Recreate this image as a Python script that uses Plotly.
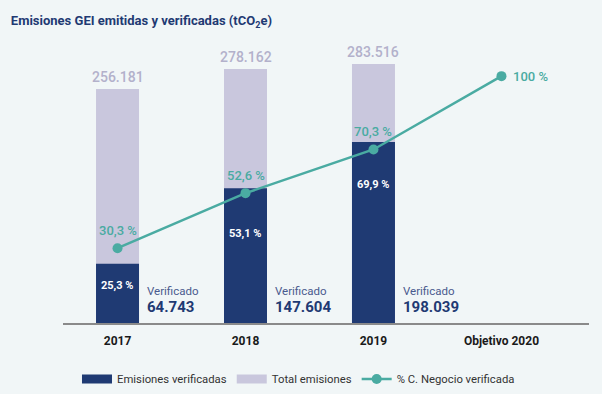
import plotly.graph_objects as go

categories = ["2017", "2018", "2019", "Objetivo 2020"]
total_emisiones = [256181, 278162, 283516]
emisiones_verificadas = [64743, 147604, 198039]
pct_verificadas = [25.3, 53.1, 69.9]
pct_negocio = [30.3, 52.6, 70.3, 100]
total_labels = ["256.181", "278.162", "283.516"]
verif_labels = ["64.743", "147.604", "198.039"]
pct_verif_labels = ["25,3 %", "53,1 %", "69,9 %"]
pct_negocio_labels = ["30,3 %", "52,6 %", "70,3 %", "100 %"]

NAVY = "#1f3a73"
LAV = "#c9c7dd"
LAV_TXT = "#b3b1cb"
TEAL = "#4aaba2"
BG = "#f1f6f7"
FONT = "Roboto"

xs = list(range(len(categories)))
xb = xs[:len(total_emisiones)]
BW = 0.336

fig = go.Figure()
fig.add_trace(go.Bar(x=xb, y=total_emisiones, width=BW, marker_color=LAV,
                     marker_line_width=0, showlegend=False, hoverinfo="skip"))
fig.add_trace(go.Bar(x=xb, y=emisiones_verificadas, width=BW, marker_color=NAVY,
                     marker_line_width=0, showlegend=False, hoverinfo="skip"))
fig.add_trace(go.Scatter(x=xs, y=pct_negocio, yaxis="y2", mode="lines+markers",
                         line=dict(color=TEAL, width=2.5),
                         marker=dict(size=10, color=TEAL), showlegend=False))

# legend entries
fig.add_trace(go.Scatter(x=[None], y=[None], mode="lines", name="Emisiones verificadas",
                         line=dict(color=NAVY, width=9)))
fig.add_trace(go.Scatter(x=[None], y=[None], mode="lines", name="Total emisiones",
                         line=dict(color=LAV, width=9)))
fig.add_trace(go.Scatter(x=[None], y=[None], mode="lines+markers", name="% C. Negocio verificada",
                         line=dict(color=TEAL, width=2.5), marker=dict(size=10, color=TEAL)))

ann = []
pct_shift = [-13, -37, -34]
for i, x in enumerate(xb):
    ann.append(dict(x=x, y=total_emisiones[i], text=total_labels[i], showarrow=False,
                    yanchor="bottom", yshift=2,
                    font=dict(family=FONT, size=14, color=LAV_TXT, weight=500)))
    ann.append(dict(x=x, y=emisiones_verificadas[i], text="<b>" + pct_verif_labels[i] + "</b>",
                    showarrow=False, yanchor="top", yshift=pct_shift[i],
                    font=dict(family=FONT, size=11, color="white")))
    ann.append(dict(x=x + BW / 2 + 0.05, y=0, text="Verificado", showarrow=False,
                    xanchor="left", yanchor="bottom", yshift=23,
                    font=dict(family=FONT, size=11.5, color="#4a5a8e")))
    ann.append(dict(x=x + BW / 2 + 0.05, y=0, text="<b>" + verif_labels[i] + "</b>", showarrow=False,
                    xanchor="left", yanchor="bottom", yshift=5,
                    font=dict(family=FONT, size=15, color=NAVY)))
for i, x in enumerate(xs):
    if i < len(xs) - 1:
        ann.append(dict(x=x, y=pct_negocio[i], yref="y2", text=pct_negocio_labels[i],
                        showarrow=False, yanchor="bottom", yshift=8,
                        font=dict(family=FONT, size=13, color=TEAL, weight=500)))
    else:
        ann.append(dict(x=x, y=pct_negocio[i], yref="y2", text=pct_negocio_labels[i],
                        showarrow=False, xanchor="left", xshift=10,
                        font=dict(family=FONT, size=13, color=TEAL, weight=500)))

fig.update_layout(
    width=602, height=394,
    paper_bgcolor=BG, plot_bgcolor=BG,
    margin=dict(l=63, r=13, t=49, b=71),
    barmode="overlay",
    font=dict(family=FONT, size=12, color="#222"),
    title=dict(text="<b>Emisiones GEI emitidas y verificadas (tCO<sub>2</sub>e)</b>",
               x=0.018, xref="container", xanchor="left", y=0.947, yref="container",
               yanchor="middle",
               font=dict(family=FONT, size=13, color=NAVY)),
    xaxis=dict(range=[-0.426, 3.684], tickmode="array", tickvals=xs,
               ticktext=["<b>" + c + "</b>" for c in categories],
               showgrid=False, zeroline=False, showline=True, linecolor="#8a8a8a",
               linewidth=1.5, ticks="outside", ticklen=6, tickcolor="rgba(0,0,0,0)",
               tickfont=dict(family=FONT, size=12, color="#1a1a1a")),
    yaxis=dict(range=[0, 300000], visible=False, showgrid=False),
    yaxis2=dict(range=[0, 111], overlaying="y", visible=False, showgrid=False),
    legend=dict(orientation="h", x=0.0266, xanchor="left", yref="container",
                y=0.038, yanchor="middle",
                font=dict(family=FONT, size=11.3, color="#333"), bgcolor="rgba(0,0,0,0)"),
    annotations=ann,
)

fig.write_html("out.html", config={"displayModeBar": False},
               post_script="document.body.style.margin='0';")
